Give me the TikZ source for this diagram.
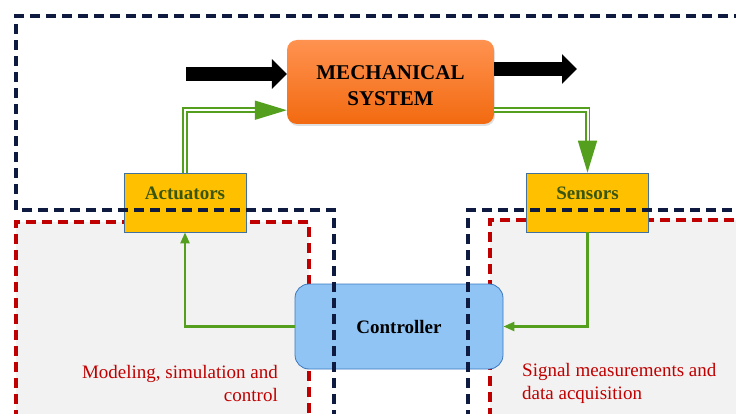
\documentclass[tikz,border=0pt]{standalone}
\usepackage{fontspec}
\setmainfont{Liberation Serif}
\usetikzlibrary{arrows.meta,calc,positioning,shadows}
\definecolor{navyLine}{RGB}{14,26,64}
\definecolor{redLine}{RGB}{192,0,0}
\definecolor{panelGray}{RGB}{242,242,242}
\definecolor{sigGreen}{RGB}{84,160,30}
\definecolor{boxYellow}{RGB}{255,192,0}
\definecolor{boxBorder}{RGB}{65,113,156}
\definecolor{labelGreen}{RGB}{58,86,12}
\definecolor{ctrlBlue}{RGB}{143,196,245}
\definecolor{ctrlBorder}{RGB}{60,120,190}
\definecolor{mechTop}{RGB}{255,146,80}
\definecolor{mechBot}{RGB}{242,106,16}
\tikzset{
	blockText/.style={font=\fontsize{19}{23}\selectfont\bfseries},
	devBox/.style={draw=boxBorder,line width=0.8pt,fill=boxYellow,minimum width=122pt,minimum height=59pt,text=labelGreen,text height=13pt,text depth=18pt,blockText},
	sigArrow/.style={draw=sigGreen,line width=2.4pt,-{Triangle[length=11pt,width=9pt]}},
	powArrow/.style={draw=sigGreen,line width=1.7pt,double=white,double distance=2pt,-{Triangle[length=32pt,width=19pt]}},
	bigArrow/.style={line width=14pt,-{Triangle[length=15pt,width=29pt]}},
	navyDash/.style={draw=navyLine,line width=3.2pt,dash pattern=on 10pt off 6pt},
	redDash/.style={draw=redLine,line width=3.2pt,dash pattern=on 10pt off 6pt},
	noteText/.style={text=redLine,font=\fontsize{19}{23}\selectfont,inner sep=0pt},
}
\begin{document}
\begin{tikzpicture}[x=1pt,y=1pt]
	\useasboundingbox (0,0) rectangle (736,-414);
	% panels
	\fill[panelGray] (16,-222) rectangle (309,-420);
	\fill[panelGray] (490,-220) rectangle (750,-420);
	\draw[redDash] (16,-420) -- (16,-222) -- (309,-222) -- (309,-420);
	\draw[redDash] (750,-220) -- (490,-220) -- (490,-415.5) -- (750,-415.5);
	
	\node (mech) at (390.5,-82) [rounded corners=10pt,minimum width=207pt,minimum height=84pt,top color=mechTop,bottom color=mechBot,drop shadow={opacity=0.25,shadow xshift=1pt,shadow yshift=-2pt},align=center,font=\fontsize{21}{26}\selectfont\bfseries]{\rule{0pt}{22pt}MECHANICAL\\SYSTEM};
	\node (act) at (185,-202.5) [devBox]{Actuators};
	\node (sens) at (587.5,-202.5) [devBox]{Sensors};
	\node (ctrl) at (399,-326.5) [draw=ctrlBorder,line width=0.8pt,fill=ctrlBlue,rounded corners=14pt,minimum width=208pt,minimum height=85pt,blockText]{Controller};
	
	\coordinate (in) at (186,-74);
	\coordinate (out) at (577,-69);
	\draw[bigArrow] (in) -- (in -| mech.west);
	\draw[bigArrow] (out -| mech.east) -- (out);
	\draw[powArrow] (act.north) |- ($(mech.south west)+(0,14)$);
	\draw[powArrow] ($(mech.south east)+(0,14)$) -| (sens.north);
	\draw[sigArrow] (ctrl.west) -| (act.south);
	\draw[sigArrow] (sens.south) |- (ctrl.east);
	
	\node (model) at (278,-401) [noteText,anchor=base east,align=right]{Modeling, simulation and\\control};
	\node (signal) at (522,-399) [noteText,anchor=base west,align=left]{Signal measurements and\\data acquisition};
	
	% boundary of the physical part
	\draw[navyDash] (334,-420) -- (334,-210) -- (16,-210) -- (16,-16) -- (750,-16);
	\draw[navyDash] (468,-420) -- (468,-210) -- (750,-210);
\end{tikzpicture}
\end{document}
